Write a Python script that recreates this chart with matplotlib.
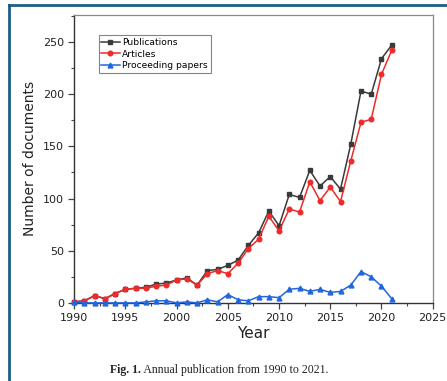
import matplotlib
matplotlib.use("Agg")
import matplotlib.pyplot as plt
from matplotlib.lines import Line2D
from matplotlib.ticker import MultipleLocator

years = list(range(1990, 2022))
publications = [1, 2, 7, 4, 9, 13, 14, 15, 18, 19, 22, 24, 17, 31, 32, 36,
                41, 55, 67, 88, 74, 104, 101, 127, 112, 121, 109, 152, 203, 200, 234, 247]
articles = [1, 2, 7, 4, 9, 13, 14, 14, 16, 17, 22, 23, 17, 28, 31, 28,
            38, 52, 61, 83, 69, 90, 87, 116, 98, 111, 97, 136, 173, 176, 219, 242]
proceedings = [1, 0, 0, 0, 0, 0, 0, 1, 2, 2, 0, 1, 0, 3, 1, 8,
               3, 2, 6, 6, 5, 13, 14, 11, 13, 10, 11, 17, 30, 25, 16, 4]

fig = plt.figure(figsize=(4.47, 3.81), dpi=100)
ax = fig.add_axes([0.166, 0.205, 0.802, 0.756])

ax.plot(years, publications, color='#3a3a3a', marker='s', markersize=3.3, lw=1.1,
        label='Publications', clip_on=False, zorder=3)
ax.plot(years, articles, color='#ee2a2a', marker='o', markersize=3.3, lw=1.1,
        label='Articles', clip_on=False, zorder=4)
ax.plot(years, proceedings, color='#2266dd', marker='^', markersize=3.5, lw=1.1,
        label='Proceeding papers', clip_on=False, zorder=5)

ax.set_xlim(1990, 2025)
ax.set_ylim(0, 276)
ax.xaxis.set_major_locator(MultipleLocator(5))
ax.xaxis.set_minor_locator(MultipleLocator(2.5))
ax.yaxis.set_major_locator(MultipleLocator(50))
ax.yaxis.set_minor_locator(MultipleLocator(25))
ax.tick_params(which='major', direction='out', length=4, width=0.9,
               labelsize=8, colors='#444444', labelcolor='#222222')
ax.tick_params(which='minor', direction='out', length=2.5, width=0.8, colors='#444444')

for s in ['left', 'bottom']:
    ax.spines[s].set_color('#333333')
    ax.spines[s].set_linewidth(1.0)
for s in ['top', 'right']:
    ax.spines[s].set_color('#888888')
    ax.spines[s].set_linewidth(0.9)

ax.set_xlabel('Year', fontsize=11, color='#222222', labelpad=2)
ax.set_ylabel('Number of documents', fontsize=10, color='#222222', labelpad=4)

leg = ax.legend(loc='upper left', bbox_to_anchor=(0.068, 0.93), fontsize=6.6,
                frameon=True, fancybox=False, edgecolor='#666666',
                handlelength=2.0, handletextpad=0.3, borderpad=0.3,
                labelspacing=0.3, borderaxespad=0)
leg.get_frame().set_linewidth(0.8)

# caption: bold figure number, then the title right after it
t1 = fig.text(0.246, 0.022, 'Fig. 1.', fontsize=8.5, fontweight='bold',
              family='Liberation Serif', color='#222222')
ax.annotate(' Annual publication from 1990 to 2021.', xy=(1, 0), xycoords=t1,
            va='bottom', ha='left', fontsize=8.5, family='Liberation Serif',
            color='#222222', annotation_clip=False)

# page frame lines
fig.add_artist(Line2D([0.02, 0.02], [0, 0.986], transform=fig.transFigure,
                      color='#1b5e86', lw=2))
fig.add_artist(Line2D([0.02, 1.0], [0.986, 0.986], transform=fig.transFigure,
                      color='#1b5e86', lw=2))

fig.savefig('out.png', dpi=100)
